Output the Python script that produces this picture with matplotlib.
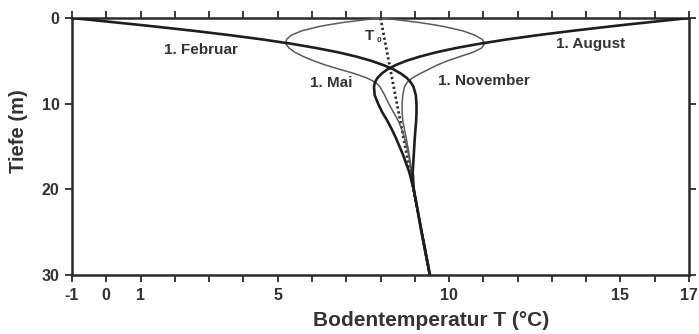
import matplotlib
matplotlib.use("Agg")
import matplotlib.pyplot as plt
from matplotlib.ticker import FixedLocator, MultipleLocator

plt.rcParams["font.family"] = ["Liberation Sans", "DejaVu Sans"]
plt.rcParams["axes.unicode_minus"] = False

# Depth below ground (m)
depth = [0, 0.25, 0.5, 0.75, 1, 1.5, 2, 2.5, 3, 3.5, 4, 4.5, 5, 5.5, 6,
         6.5, 7, 7.5, 8, 9, 10, 11, 12, 13, 14, 16, 18, 20, 25, 30]

# Soil temperature profiles (deg C) on four dates
t_feb = [-1.0, -0.38, 0.23, 0.84, 1.43, 2.56, 3.60, 4.55, 5.39, 6.12, 6.76,
         7.29, 7.73, 8.09, 8.38, 8.60, 8.77, 8.88, 8.96, 9.03, 9.05, 9.05,
         9.04, 9.02, 9.00, 8.97, 8.94, 8.97, 9.20, 9.44]
t_aug = [17.0, 16.41, 15.82, 15.23, 14.67, 13.59, 12.59, 11.69, 10.90, 10.21,
         9.63, 9.15, 8.75, 8.44, 8.20, 8.03, 7.91, 7.84, 7.81, 7.83, 7.93,
         8.05, 8.20, 8.33, 8.45, 8.66, 8.84, 8.97, 9.20, 9.44]
t_mai = [8.0, 7.45, 6.95, 6.55, 6.20, 5.70, 5.40, 5.26, 5.24, 5.33, 5.50,
         5.75, 6.05, 6.40, 6.82, 7.25, 7.60, 7.85, 7.98, 8.12, 8.24, 8.38,
         8.52, 8.62, 8.70, 8.82, 8.90, 8.97, 9.20, 9.44]
t_nov = [8.0, 8.57, 9.08, 9.50, 9.85, 10.40, 10.75, 10.97, 11.04, 10.95,
         10.70, 10.32, 9.95, 9.65, 9.40, 9.15, 8.93, 8.78, 8.70, 8.65, 8.63,
         8.63, 8.65, 8.70, 8.75, 8.84, 8.91, 8.97, 9.20, 9.44]

# Mean annual temperature line T0
t0_depth = [0, 30]
t0_temp = [8.0, 9.44]

x_ticks = [-1, 0, 1, 5, 10, 15, 17]
y_ticks = [0, 10, 20, 30]

ink = "#2b2b2b"
txt = "#333333"

fig = plt.figure(figsize=(6.99, 3.34), dpi=100)
ax = fig.add_axes([72 / 699, 1 - 275 / 334, (689 - 72) / 699, (275 - 18) / 334])

ax.plot(t0_temp, t0_depth, color=ink, lw=2.0, ls=(0, (0.8, 1.0)), zorder=2)
ax.plot(t_mai, depth, color="#5a5a5a", lw=1.1, zorder=3)
ax.plot(t_nov, depth, color="#5a5a5a", lw=1.1, zorder=3)
ax.plot(t_feb, depth, color="#1e1e1e", lw=1.9, zorder=4)
ax.plot(t_aug, depth, color="#1e1e1e", lw=1.9, zorder=4)

ax.set_xlim(-1, 17)
ax.set_ylim(30, 0)

for s in ax.spines.values():
    s.set_linewidth(1.8)
    s.set_color(ink)

ax.xaxis.set_major_locator(FixedLocator(x_ticks))
ax.xaxis.set_minor_locator(MultipleLocator(1))
ax.yaxis.set_major_locator(FixedLocator(y_ticks))
ax.tick_params(axis="both", which="both", direction="out", length=5,
               width=1.3, color=ink, top=True, right=True,
               labeltop=False, labelright=False)
ax.tick_params(axis="both", which="major", labelsize=11.5, labelcolor=txt, pad=4)
for lab in ax.get_xticklabels() + ax.get_yticklabels():
    lab.set_fontweight("bold")

ax.set_xlabel("Bodentemperatur T (°C)", fontsize=15, fontweight="bold",
              color=txt)
ax.xaxis.set_label_coords((431 - 72) / 617, -(321 - 275) / 257)
ax.xaxis.label.set_va("center")
ax.set_ylabel("Tiefe (m)", fontsize=14.5, fontweight="bold", color=txt)
ax.yaxis.set_label_coords(-(72 - 19) / 617, (275 - 131) / 257)
ax.yaxis.label.set_va("center")

lab_kw = dict(fontsize=11, fontweight="bold", color=txt, ha="center", va="center")
ax.text(2.76, 3.75, "1. Februar", **lab_kw)
ax.text(14.14, 3.05, "1. August", **lab_kw)
ax.text(6.56, 7.6, "1. Mai", **lab_kw)
ax.text(11.02, 7.35, "1. November", **lab_kw)
ax.text(7.69, 2.1, "T", **lab_kw)
ax.text(7.95, 2.6, "0", fontsize=6, fontweight="bold", color=txt,
        ha="center", va="center")

fig.savefig("out.png", dpi=100)
